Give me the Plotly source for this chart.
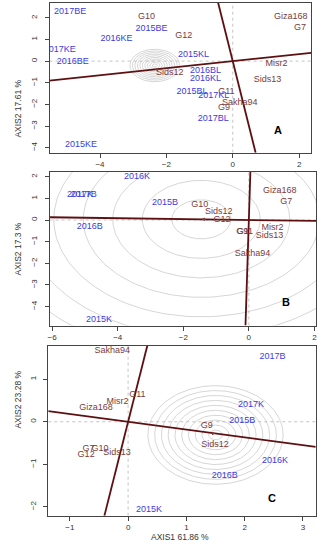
import plotly.graph_objects as go
import numpy as np

# ---------------- Panel A ----------------
a_env = ["2017BE", "2015BE", "2016KE", "2017KE", "2016BE", "2015KL", "2016BL",
         "2016KL", "2015BL", "2017KL", "2017BL", "2015KE"]
a_env_x = [-4.9, -2.45, -3.5, -5.21, -4.82, -1.18, -0.82, -0.82, -1.23, -0.57, -0.59, -4.57]
a_env_y = [2.29, 1.49, 1.05, 0.54, -0.02, 0.31, -0.45, -0.82, -1.4, -1.58, -2.67, -3.87]
a_gen = ["G10", "Giza168", "G7", "G12", "Misr2", "Sids12", "Sids13", "G11", "Sakha94", "G9"]
a_gen_x = [-2.6, 1.75, 2.03, -1.48, 1.32, -1.9, 1.05, -0.19, 0.21, -0.26]
a_gen_y = [2.06, 2.03, 1.55, 1.16, -0.11, -0.53, -0.84, -1.4, -1.92, -2.17]
a_slope = 0.163
a_center = (-2.35, -0.2)
a_radii = [0.075, 0.15, 0.225, 0.3, 0.375, 0.45, 0.525, 0.6, 0.675, 0.75]
a_xr, a_yr = [-5.52, 2.36], [-4.23, 2.7]
a_xt, a_yt = [-4, -2, 0, 2], [-4, -3, -2, -1, 0, 1, 2]

# ---------------- Panel B ----------------
b_env = ["2016K", "2017K", "2017B", "2015B", "2016B", "2015K"]
b_env_x = [-3.41, -5.15, -5.04, -2.56, -4.85, -4.57]
b_env_y = [1.98, 1.18, 1.18, 0.78, -0.32, -4.59]
b_gen = ["Giza168", "G7", "G10", "Sids12", "G12", "G9", "G11", "Misr2", "Sids13", "Sakha94"]
b_gen_x = [0.94, 1.14, -1.5, -0.92, -0.82, -0.2, -0.12, 0.72, 0.63, 0.11]
b_gen_y = [1.34, 0.86, 0.7, 0.37, 0.01, -0.52, -0.52, -0.35, -0.74, -1.58]
b_slope = -0.021
b_center = (-1.45, 0.03)
b_radii = [0.9, 1.8, 2.7, 3.6, 4.5, 5.4, 6.3, 7.2]
b_xr, b_yr = [-6.08, 2.05], [-4.87, 2.23]
b_xt, b_yt = [-6, -4, -2, 0, 2], [-4, -3, -2, -1, 0, 1, 2]

# ---------------- Panel C ----------------
c_env = ["2017B", "2017K", "2015B", "2016K", "2016B", "2015K"]
c_env_x = [2.48, 2.11, 1.96, 2.52, 1.66, 0.36]
c_env_y = [1.52, 0.39, 0.02, -0.92, -1.27, -2.06]
c_gen = ["Sakha94", "G11", "Misr2", "Giza168", "G9", "Sids12", "G7", "G10", "G12", "Sids13"]
c_gen_x = [-0.27, 0.16, -0.18, -0.55, 1.35, 1.49, -0.68, -0.48, -0.72, -0.19]
c_gen_y = [1.67, 0.63, 0.47, 0.32, -0.1, -0.53, -0.63, -0.64, -0.77, -0.73]
c_slope = -0.184
c_center = (1.5, -0.31)
c_radii = [0.116, 0.232, 0.348, 0.464, 0.58, 0.696, 0.812, 0.928, 1.044, 1.16]
c_xr, c_yr = [-1.37, 3.22], [-2.21, 1.79]
c_xt, c_yt = [-1, 0, 1, 2, 3], [-2, -1, 0, 1]

panels = [
    dict(env=a_env, ex=a_env_x, ey=a_env_y, gen=a_gen, gx=a_gen_x, gy=a_gen_y,
         slope=a_slope, center=a_center, radii=a_radii, xr=a_xr, yr=a_yr, xt=a_xt, yt=a_yt,
         letter="A", lxy=(1.37, -3.16), ytitle="AXIS2 17.61 %",
         xdom=[48 / 321, 312 / 321], ydom=[1 - 152.7 / 550, 1 - 2.7 / 550]),
    dict(env=b_env, ex=b_env_x, ey=b_env_y, gen=b_gen, gx=b_gen_x, gy=b_gen_y,
         slope=b_slope, center=b_center, radii=b_radii, xr=b_xr, yr=b_yr, xt=b_xt, yt=b_yt,
         letter="B", lxy=(1.12, -3.78), ytitle="AXIS2 17.3 %",
         xdom=[48 / 321, 317 / 321], ydom=[1 - 325.5 / 550, 1 - 171.7 / 550]),
    dict(env=c_env, ex=c_env_x, ey=c_env_y, gen=c_gen, gx=c_gen_x, gy=c_gen_y,
         slope=c_slope, center=c_center, radii=c_radii, xr=c_xr, yr=c_yr, xt=c_xt, yt=c_yt,
         letter="C", lxy=(2.47, -1.79), ytitle="AXIS2 23.28 %",
         xdom=[46.7 / 321, 316.7 / 321], ydom=[1 - 515.7 / 550, 1 - 345.7 / 550]),
]

ENV_COL = "#3c3cdc"
GEN_COL = "#7a3c3c"
LINE_COL = "#5e0f12"
FONT = "Liberation Sans, Arial, sans-serif"

fig = go.Figure()
annotations = []
theta = np.linspace(0, 2 * np.pi, 181)

for i, p in enumerate(panels):
    sfx = "" if i == 0 else str(i + 1)
    xa, ya = "x" + sfx, "y" + sfx
    # concentric circles
    cx, cy = p["center"]
    for r in p["radii"]:
        fig.add_trace(go.Scatter(x=cx + r * np.cos(theta), y=cy + r * np.sin(theta),
                                 mode="lines", line=dict(color="#cccccc", width=0.8),
                                 hoverinfo="skip", showlegend=False, xaxis=xa, yaxis=ya))
    # dotted reference axes at zero
    fig.add_trace(go.Scatter(x=p["xr"], y=[0, 0], mode="lines",
                             line=dict(color="#b5b5b5", width=0.8, dash="dot"),
                             showlegend=False, hoverinfo="skip", xaxis=xa, yaxis=ya))
    fig.add_trace(go.Scatter(x=[0, 0], y=p["yr"], mode="lines",
                             line=dict(color="#b5b5b5", width=0.8, dash="dot"),
                             showlegend=False, hoverinfo="skip", xaxis=xa, yaxis=ya))
    # average environment axis and its perpendicular
    s = p["slope"]
    fig.add_trace(go.Scatter(x=p["xr"], y=[s * v for v in p["xr"]], mode="lines",
                             line=dict(color=LINE_COL, width=1.8),
                             showlegend=False, hoverinfo="skip", xaxis=xa, yaxis=ya))
    ps = -1.0 / s
    fig.add_trace(go.Scatter(x=[v / ps for v in p["yr"]], y=p["yr"], mode="lines",
                             line=dict(color=LINE_COL, width=1.8),
                             showlegend=False, hoverinfo="skip", xaxis=xa, yaxis=ya))
    # labels
    fig.add_trace(go.Scatter(x=p["gx"], y=p["gy"], text=p["gen"], mode="text",
                             textfont=dict(color=GEN_COL, size=9, family=FONT),
                             showlegend=False, xaxis=xa, yaxis=ya))
    fig.add_trace(go.Scatter(x=p["ex"], y=p["ey"], text=p["env"], mode="text",
                             textfont=dict(color=ENV_COL, size=9, family=FONT),
                             showlegend=False, xaxis=xa, yaxis=ya))
    # small arrow towards the ideal point
    dirx = -1 if cx < 0 else 1
    annotations.append(dict(x=cx, y=s * cx, xref=xa, yref=ya, ax=-dirx * 6, ay=0,
                            showarrow=True, arrowhead=2, arrowsize=0.7, arrowwidth=1,
                            arrowcolor=GEN_COL, text=""))
    # panel letter
    annotations.append(dict(x=p["lxy"][0], y=p["lxy"][1], xref=xa, yref=ya, text="<b>%s</b>" % p["letter"],
                            showarrow=False, font=dict(size=11, color="black", family=FONT)))
    # y title
    annotations.append(dict(x=9 / 321, y=sum(p["ydom"]) / 2, xref="paper", yref="paper",
                            text=p["ytitle"], textangle=-90, showarrow=False,
                            font=dict(size=8.5, color="#333", family=FONT)))
    axis_common = dict(showgrid=False, zeroline=False, showline=True, mirror=True,
                       linecolor="#444", linewidth=1, ticks="outside", ticklen=4,
                       tickcolor="#444", tickfont=dict(size=8, color="#333", family=FONT))
    fig.layout["xaxis" + sfx] = dict(domain=p["xdom"], range=p["xr"], tickvals=p["xt"],
                                     anchor=ya, **axis_common)
    fig.layout["yaxis" + sfx] = dict(domain=p["ydom"], range=p["yr"], tickvals=p["yt"],
                                     anchor=xa, tickangle=-90, ticklabelstandoff=4, **axis_common)

annotations.append(dict(x=180 / 321, y=1 - 544 / 550, xref="paper", yref="paper",
                        text="AXIS1 61.86 %", showarrow=False,
                        font=dict(size=8.5, color="#333", family=FONT)))

fig.update_layout(width=321, height=550, margin=dict(l=0, r=0, t=0, b=0),
                  paper_bgcolor="white", plot_bgcolor="white",
                  annotations=annotations, showlegend=False)

fig.write_html("out.html", config={"displayModeBar": False},
               post_script="document.body.style.margin='0';document.body.style.overflow='hidden';")
